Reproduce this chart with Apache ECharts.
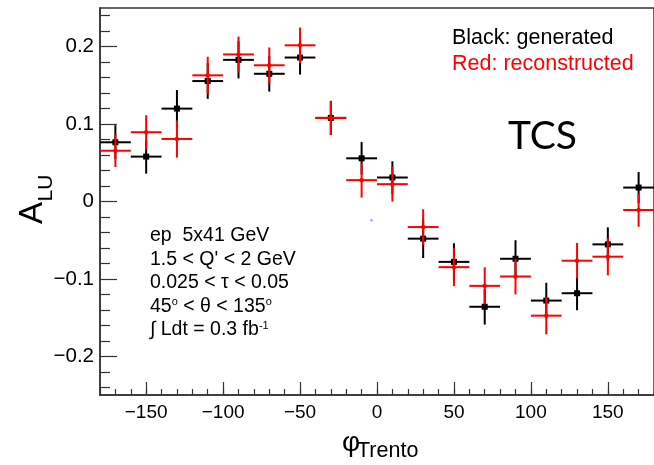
<!DOCTYPE html>
<html>
<head>
<meta charset="utf-8">
<script src="https://cdn.jsdelivr.net/npm/echarts@6/dist/echarts.min.js"></script>
<style>
  html, body { margin: 0; padding: 0; background: #fff; }
  #chart { width: 654px; height: 465px; }
</style>
</head>
<body>
<div id="chart"></div>
<script>
// Bin centres in phi_Trento (degrees); each bin is 20 degrees wide
const phiBins = [-170, -150, -130, -110, -90, -70, -50, -30, -10, 10, 30, 50, 70, 90, 110, 130, 150, 170];
const binHalfWidth = 10;

// Generated asymmetry and its statistical error
const generated    = [0.0765, 0.058, 0.120, 0.1556, 0.183, 0.165, 0.186, 0.108, 0.0558, 0.031, -0.048, -0.078, -0.136, -0.074, -0.128, -0.1185, -0.0554, 0.018];
const generatedErr = [0.022, 0.022, 0.024, 0.023, 0.024, 0.023, 0.022, 0.022, 0.021, 0.021, 0.025, 0.024, 0.023, 0.024, 0.023, 0.022, 0.022, 0.020];

// Reconstructed asymmetry and its statistical error
const reconstructed    = [0.0656, 0.0895, 0.0808, 0.163, 0.190, 0.176, 0.2018, 0.108, 0.0276, 0.0224, -0.033, -0.0848, -0.109, -0.0969, -0.1475, -0.0765, -0.0713, -0.011];
const reconstructedErr = [0.021, 0.022, 0.024, 0.024, 0.023, 0.023, 0.023, 0.022, 0.0225, 0.0225, 0.023, 0.0246, 0.024, 0.023, 0.024, 0.023, 0.024, 0.0216];

// Stray point left on the canvas
const strayPoint = [[-3.6, -0.0243]];

// Axis ticks
const xMajorTicks = [-150, -100, -50, 0, 50, 100, 150];
const yMajorTicks = [-0.2, -0.1, 0, 0.1, 0.2];
const yMinorTicks = [-0.24, -0.22, -0.18, -0.16, -0.14, -0.12, -0.08, -0.06, -0.04, -0.02,
                     0.02, 0.04, 0.06, 0.08, 0.12, 0.14, 0.16, 0.18, 0.22, 0.24];

// Annotation block
const infoLines = [
  'ep  5x41 GeV',
  '1.5 < Q\' < 2 GeV',
  '0.025 < \u03c4 < 0.05',
  '45{sup|o} < \u03b8 < 135{sup|o}',
  '\u222b Ldt = 0.3 fb{sup|-1}'
];

const FONT = '"Liberation Sans", Arial, Helvetica, sans-serif';
const AXIS_COLOR = '#333';

function minusFmt(v, digits) {
  if (Math.abs(v) < 1e-9) return '0';
  const s = digits ? Math.abs(v).toFixed(digits) : String(Math.abs(v));
  return (v < 0 ? '\u2212' : '') + s;
}

function toRows(values, errs) {
  return phiBins.map((x, i) => [x, values[i], errs[i]]);
}

function crossSeries(name, rows, color, marker) {
  return {
    name: name,
    type: 'custom',
    xAxisIndex: 0,
    yAxisIndex: 0,
    clip: false,
    data: rows,
    renderItem: function (params, api) {
      const x = api.value(0), y = api.value(1), e = api.value(2);
      const c = api.coord([x, y]);
      const l = api.coord([x - binHalfWidth, y]);
      const r = api.coord([x + binHalfWidth, y]);
      const t = api.coord([x, y + e]);
      const b = api.coord([x, y - e]);
      const lineStyle = { stroke: color, lineWidth: 2 };
      const mark = marker === 'square'
        ? { type: 'rect', shape: { x: c[0] - 3, y: c[1] - 3, width: 6, height: 6 }, style: { fill: color } }
        : { type: 'circle', shape: { cx: c[0], cy: c[1], r: 2.2 }, style: { fill: color } };
      return {
        type: 'group',
        children: [
          { type: 'line', shape: { x1: l[0], y1: l[1], x2: r[0], y2: r[1] }, style: lineStyle },
          { type: 'line', shape: { x1: t[0], y1: t[1], x2: b[0], y2: b[1] }, style: lineStyle },
          mark
        ]
      };
    }
  };
}

const chart = echarts.init(document.getElementById('chart'), null, { renderer: 'canvas' });

const textGraphics = [
  // y-axis title A_LU (rotated)
  { type: 'text', x: 33, y: 213, rotation: Math.PI / 2,
    style: { text: 'A', font: '33px ' + FONT, fill: '#000', align: 'center', verticalAlign: 'middle' } },
  { type: 'text', x: 46, y: 188, rotation: Math.PI / 2,
    style: { text: 'LU', font: '21px ' + FONT, fill: '#000', align: 'center', verticalAlign: 'middle' } },
  // x-axis title phi_Trento
  { type: 'text', x: 351, y: 443,
    style: { text: '\u03c6', font: '28px ' + FONT, fill: '#000', align: 'center', verticalAlign: 'middle' } },
  { type: 'text', x: 357, y: 451,
    style: { text: 'Trento', font: '21.5px ' + FONT, fill: '#000', align: 'left', verticalAlign: 'middle' } },
  // legend text
  { type: 'text', x: 452, y: 38.5,
    style: { text: 'Black: generated', font: '21.5px ' + FONT, fill: '#000', align: 'left', verticalAlign: 'middle' } },
  { type: 'text', x: 452, y: 64.5,
    style: { text: 'Red: reconstructed', font: '21.5px ' + FONT, fill: '#ff0000', align: 'left', verticalAlign: 'middle' } },
  // process label
  { type: 'text', x: 508, y: 136,
    style: { text: 'TCS', font: '39px Lato, "Open Sans", sans-serif', fill: '#000', align: 'left', verticalAlign: 'middle' } }
];

infoLines.forEach(function (line, i) {
  textGraphics.push({
    type: 'text', x: 150, y: 236 + 23.5 * i,
    style: {
      text: line, fill: '#000', align: 'left', verticalAlign: 'middle',
      font: '19.5px ' + FONT,
      rich: {
        sup: { fontSize: 11, fontFamily: FONT, fill: '#000', verticalAlign: 'top', lineHeight: 12 }
      }
    }
  });
});

const option = {
  animation: false,
  backgroundColor: '#fff',
  grid: {
    left: 100, top: 8, width: 565, height: 387,
    show: true, borderColor: AXIS_COLOR, borderWidth: 1.5, backgroundColor: 'transparent'
  },
  xAxis: [
    {
      type: 'value', min: -180, max: 180, position: 'bottom',
      axisLine: { show: true, onZero: false, lineStyle: { color: AXIS_COLOR, width: 1.5 } },
      axisTick: { show: true, inside: true, length: 13, customValues: xMajorTicks, lineStyle: { color: AXIS_COLOR, width: 1.2 } },
      axisLabel: { customValues: xMajorTicks, formatter: v => minusFmt(v, 0), fontSize: 19, fontFamily: FONT, color: '#000', margin: 8 },
      splitLine: { show: false }
    },
    {
      type: 'value', min: -180, max: 180, interval: 10, position: 'bottom',
      axisLine: { show: false, onZero: false },
      axisTick: { show: true, inside: true, length: 6, lineStyle: { color: AXIS_COLOR, width: 1.2 } },
      axisLabel: { show: false },
      splitLine: { show: false }
    }
  ],
  yAxis: [
    {
      type: 'value', min: -0.25, max: 0.25, position: 'left',
      axisLine: { show: true, onZero: false, lineStyle: { color: AXIS_COLOR, width: 1.5 } },
      axisTick: { show: true, inside: true, length: 17, customValues: yMajorTicks, lineStyle: { color: AXIS_COLOR, width: 1.2 } },
      axisLabel: { customValues: yMajorTicks, formatter: v => minusFmt(v, 1), fontSize: 20.5, fontFamily: FONT, color: '#000', margin: 6 },
      splitLine: { show: false }
    },
    {
      type: 'value', min: -0.25, max: 0.25, position: 'left',
      axisLine: { show: false, onZero: false },
      axisTick: { show: true, inside: true, length: 10, customValues: yMinorTicks, lineStyle: { color: AXIS_COLOR, width: 1.2 } },
      axisLabel: { show: false },
      splitLine: { show: false }
    }
  ],
  series: [
    crossSeries('generated', toRows(generated, generatedErr), '#000000', 'square'),
    crossSeries('reconstructed', toRows(reconstructed, reconstructedErr), '#ff0000', 'dot'),
    {
      name: 'stray', type: 'scatter', xAxisIndex: 0, yAxisIndex: 0,
      data: strayPoint, symbol: 'circle', symbolSize: 2.5,
      itemStyle: { color: '#8a8aff' }, silent: true
    }
  ],
  graphic: textGraphics
};

chart.setOption(option);
</script>
</body>
</html>
